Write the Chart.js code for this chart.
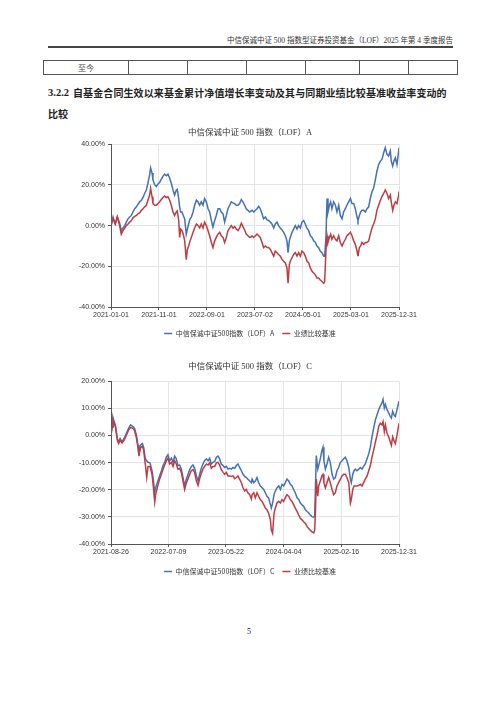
<!DOCTYPE html>
<html>
<head>
<meta charset="utf-8">
<script src="https://cdn.jsdelivr.net/npm/chart.js@4.4.1/dist/chart.umd.min.js"></script>
<style>
  body { margin: 0; background: #fff; width: 500px; height: 707px; position: relative; overflow: hidden; }
  .t { position: absolute; white-space: nowrap; color: #222; }
  .serif { font-family: 'Liberation Serif', 'Noto Sans CJK SC', serif; }
  table.row { position: absolute; left: 43px; top: 60px; width: 414px; height: 15px; border-collapse: collapse; table-layout: fixed; }
  table.row td { border: 1px solid #555; padding: 0; height: 13px; font: 8px 'Liberation Serif', 'Noto Sans CJK SC', serif; color: #444; text-align: center; }
  .box { position: absolute; left: 0; width: 500px; }
</style>
</head>
<body>
<div class="t serif" style="right:47px; top:36px; font-size:7.5px; line-height:10px; color:#333;">中信保诚中证 500 指数型证券投资基金（LOF）2025 年第 4 季度报告</div>
<div style="position:absolute; left:48px; top:46px; width:405px; height:1.5px; background:#444;"></div>

<table class="row">
  <colgroup><col style="width:85px"><col style="width:59px"><col style="width:59px"><col style="width:59px"><col style="width:54px"><col style="width:49px"><col style="width:49px"></colgroup>
  <tr><td>至今</td><td></td><td></td><td></td><td></td><td></td><td></td></tr>
</table>

<div class="t" style="left:48px; top:87px; font:bold 10.5px/12px 'Liberation Serif', serif;">3.2.2</div>
<div class="t" style="left:73px; top:87px; font:bold 10px/12px 'Noto Sans CJK SC', sans-serif; letter-spacing:0.1px;">自基金合同生效以来基金累计净值增长率变动及其与同期业绩比较基准收益率变动的</div>
<div class="t" style="left:48px; top:108px; font:bold 10px/12px 'Noto Sans CJK SC', sans-serif;">比较</div>

<div class="box" style="top:122px; height:225px;"><canvas id="chartA"></canvas></div>
<div class="box" style="top:359px; height:226px;"><canvas id="chartC"></canvas></div>

<div class="t serif" style="left:247px; top:627px; font-size:8px; line-height:10px; color:#111;">5</div>

<script>
// ---- A share class: days since 2021-01-01 ----
var daysA = [0, 13, 27, 40, 55, 65, 76, 87, 97, 108, 118, 129, 139, 150, 161, 171, 182, 192, 203, 213,
  224, 234, 245, 251, 260, 266, 277, 287, 298, 308, 319, 329, 340, 351, 361, 372, 382, 393, 403, 414,
  420, 429, 435, 441, 450, 458, 467, 477, 484, 492, 501, 509, 520, 530, 541, 551, 562, 572, 583, 593,
  604, 615, 625, 636, 646, 657, 667, 678, 689, 699, 710, 720, 731, 741, 752, 762, 773, 784, 794, 805,
  815, 826, 836, 847, 857, 868, 879, 889,
  894, 904, 915, 925, 936, 946, 957, 967, 978, 989, 999, 1010, 1020, 1031, 1041, 1052, 1062, 1073, 1084, 1094,
  1105, 1115, 1122, 1130, 1136, 1147, 1157, 1168, 1179, 1189, 1200, 1210, 1221, 1231, 1242, 1253, 1263, 1274, 1284, 1295,
  1305, 1316, 1326, 1337, 1348, 1354, 1362, 1369, 1375, 1384, 1392, 1400, 1411, 1422, 1432, 1443, 1453, 1464, 1474, 1485,
  1495, 1506, 1517, 1527, 1538, 1548, 1559, 1565, 1574, 1582, 1590, 1601, 1612, 1622, 1633, 1643, 1654, 1664, 1675, 1685,
  1696, 1707, 1717, 1728, 1738, 1749, 1759, 1770, 1776, 1785, 1793, 1802, 1812, 1823, 1825];
var fundA = [0, 3.3, 0.8, 4.5, 1.2, -2.5, -1.2, 0, 1.7, 3.3, 4.2, 5.0, 6.7, 8.3, 9.2, 10.5, 11.7, 12.5, 13.8, 15.8,
  17.5, 20.8, 25.0, 28.3, 25.8, 22.5, 20.0, 19.2, 20.5, 21.2, 22.8, 24.2, 25.3, 24.5, 25.3, 23.3, 20.8, 17.5, 15.0, 17.5,
  17.8, 13.3, 9.2, 6.7, 6.7, 5.0, 3.3, -4.2, -1.7, 0.8, 3.3, 4.2, 6.7, 10.0, 12.5, 11.7, 10.0, 11.7, 10.0, 13.3,
  11.7, 8.3, 6.7, 2.5, -0.8, 2.5, 5.0, 8.3, 8.3, 6.7, 5.8, 1.7, 5.0, 8.3, 10.0, 11.7, 11.2, 10.8, 10.0, 10.0,
  10.8, 12.8, 11.7, 10.0, 8.3, 7.5, 6.7, 7.2,
  7.5, 6.7, 7.5, 8.3, 9.5, 8.3, 5.8, 3.3, 4.2, 2.8, 2.5, 1.7, 0.8, -1.2, 0.8, 1.7, 0, -1.2, -2.2, -3.3,
  -5.0, -7.5, -13.3, -7.5, -5.8, -3.3, -1.7, 0, -1.7, 0, -1.2, 1.7, 2.5, 0.8, -1.2, -2.5, -5.0, -5.8, -7.5, -8.3,
  -10.0, -10.8, -12.5, -13.3, -15.0, -15.0, -5.8, 13.3, 6.7, 10.0, 11.7, 8.3, 11.7, 10.0, 6.7, 10.0, 5.0, 3.3, 6.7, 8.3,
  10.0, 11.7, 13.3, 10.8, 10.8, 8.3, 4.2, 2.5, 5.0, 6.7, 7.5, 7.5, 6.7, 8.3, 9.2, 13.3, 16.7, 18.3, 22.5, 26.7,
  30.0, 31.7, 32.5, 35.8, 38.3, 35.0, 34.2, 36.7, 31.7, 29.2, 31.7, 33.3, 30.0, 36.7, 38.3];
var benchA = [0, 4.2, 0.8, 4.2, 0, -4.2, -2.5, -1.2, 0, 0.8, 1.7, 2.5, 3.8, 4.5, 5.0, 5.8, 6.2, 7.5, 8.3, 9.2,
  10.0, 12.5, 15.0, 18.3, 14.2, 10.8, 10.0, 10.0, 10.8, 11.7, 12.8, 13.8, 14.5, 13.8, 14.2, 12.5, 10.0, 6.7, 5.0, 6.7,
  7.2, 2.5, -5.8, -1.7, -2.5, -4.2, -7.5, -16.7, -11.7, -10.0, -7.5, -5.8, -3.3, -1.2, 0.8, 0, -1.2, 0.8, -1.2, 1.7,
  0, -2.5, -5.0, -8.3, -10.8, -7.5, -5.8, -4.2, -3.3, -5.0, -5.8, -8.3, -5.8, -2.5, -1.2, 0, -1.2, -0.5, -1.7, -2.5,
  -1.2, 1.2, -0.5, -2.2, -4.2, -5.0, -5.8, -5.5,
  -5.0, -5.8, -5.0, -4.2, -5.0, -5.8, -8.3, -10.8, -10.0, -10.8, -10.8, -11.7, -13.3, -15.0, -12.5, -13.3, -14.2, -15.0, -16.7, -17.5,
  -18.3, -20.8, -28.3, -19.2, -17.5, -15.8, -14.2, -13.3, -15.0, -13.3, -15.0, -12.5, -13.3, -15.0, -17.5, -18.3, -20.8, -22.5, -23.3, -24.2,
  -25.8, -25.8, -26.7, -27.5, -28.3, -27.5, -12.5, -5.0, -8.3, -5.8, -4.2, -6.7, -5.0, -6.7, -7.5, -5.0, -8.3, -10.0, -8.3, -6.7,
  -5.0, -4.2, -3.3, -5.0, -7.5, -9.2, -12.5, -15.0, -10.8, -10.0, -8.3, -9.2, -8.3, -8.3, -7.5, -4.2, -1.2, 0.8, 3.3, 7.5,
  10.0, 12.5, 14.2, 15.8, 17.5, 15.8, 13.3, 15.0, 11.7, 7.5, 10.0, 11.7, 10.8, 15.0, 16.7];
var tickDaysA = [0, 304, 608, 912, 1216, 1520, 1825];
var tickLabelsA = ['2021-01-01', '2021-11-01', '2022-09-01', '2023-07-02', '2024-05-01', '2025-03-01', '2025-12-31'];

// ---- C share class: days since 2021-08-26 ----
var daysC = [0, 6, 11, 17, 24, 35, 42, 50, 61, 72, 85, 97, 108, 121, 130, 140, 149, 154, 162, 173,
  180, 189, 197, 204, 215, 226, 233, 241, 246, 255, 268, 278, 287, 296, 305, 314, 323, 333, 342, 351,
  360, 369, 379, 388, 397, 406, 415, 425, 434, 443, 452, 461, 471, 480, 489, 498, 507, 516, 526, 535,
  544, 553, 562, 572, 581, 590, 599, 608, 618, 627, 636, 645, 654, 664, 673, 682, 691, 700, 709, 719,
  728, 737, 746, 755, 765, 774,
  778, 787, 796, 805, 814, 823, 833, 842, 851, 860, 869, 879, 884, 891, 899, 906, 915, 925, 934, 943,
  952, 961, 970, 980, 989, 998, 1007, 1016, 1026, 1035, 1044, 1053, 1062, 1072, 1081, 1090, 1099, 1108, 1118, 1123,
  1127, 1132, 1140, 1145, 1154, 1163, 1169, 1174, 1182, 1191, 1200, 1209, 1219, 1228, 1237, 1246, 1255, 1265, 1274, 1283,
  1292, 1301, 1311, 1320, 1325, 1333, 1340, 1347, 1356, 1366, 1375, 1384, 1393, 1402, 1412, 1421, 1430, 1439, 1448, 1458,
  1467, 1476, 1485, 1494, 1500, 1507, 1513, 1522, 1531, 1540, 1546, 1553, 1560, 1568, 1577, 1588];
var fundC = [0, 3.3, 6.6, 5.1, 3.9, -1.1, -2.4, -1.1, -2.4, -1.1, 0.8, 2.6, 3.9, 3.3, 2.6, 0.1, -3.6, -6.8, -3.6, -3.0,
  -4.3, -8.6, -9.3, -9.9, -10.1, -13.0, -16.1, -21.0, -19.3, -17.4, -14.9, -13.0, -11.1, -9.9, -8.0, -7.1, -9.3, -8.4, -9.9, -7.6,
  -8.6, -11.1, -10.9, -12.4, -15.5, -18.6, -16.1, -14.3, -12.6, -11.4, -10.9, -12.1, -14.9, -16.8, -14.3, -12.1, -10.5, -9.3, -8.6, -9.3,
  -8.4, -10.5, -9.9, -9.6, -8.0, -7.6, -8.6, -10.5, -11.1, -11.8, -11.4, -12.4, -12.1, -12.4, -11.8, -12.1, -11.1, -10.5, -11.8, -13.0,
  -14.3, -15.1, -15.5, -16.1, -16.8, -17.4,
  -16.1, -17.4, -16.8, -15.5, -17.4, -18.6, -19.3, -19.9, -21.1, -22.4, -23.0, -25.5, -26.8, -24.9, -21.8, -20.5, -19.3, -18.6, -19.9, -18.0,
  -18.6, -17.4, -16.1, -16.8, -18.0, -18.6, -19.9, -21.1, -23.0, -23.6, -24.9, -25.5, -26.1, -27.4, -28.0, -28.6, -29.3, -29.9, -30.1, -29.9,
  -19.9, -7.4, -12.4, -11.1, -8.6, -5.5, -4.3, -9.3, -12.4, -10.5, -8.0, -9.9, -14.3, -16.1, -15.5, -13.0, -11.8, -9.9, -9.3, -8.6,
  -8.0, -9.3, -11.8, -16.1, -17.4, -14.3, -13.0, -12.4, -13.0, -12.4, -11.8, -12.4, -11.4, -10.5, -8.6, -6.8, -4.3, -0.5, 2.6, 5.8,
  7.6, 9.5, 10.8, 12.0, 13.3, 10.1, 11.4, 9.5, 8.3, 7.0, 6.4, 8.9, 7.6, 7.0, 9.5, 12.6];
var benchC = [0, 3.0, 5.8, 4.5, 3.3, -1.8, -3.0, -1.8, -2.8, -1.8, 0.1, 2.0, 2.9, 2.6, 1.8, -0.9, -4.6, -7.6, -4.6, -4.0,
  -5.3, -10.5, -15.5, -11.4, -11.4, -14.3, -18.6, -24.5, -21.8, -19.3, -16.1, -14.3, -12.4, -10.9, -9.3, -8.4, -10.5, -9.9, -11.4, -9.3,
  -10.5, -12.4, -12.1, -13.6, -16.8, -19.9, -17.6, -15.9, -14.3, -13.0, -12.6, -13.6, -16.8, -18.4, -15.9, -13.9, -12.4, -11.4, -10.5, -10.9,
  -10.1, -12.1, -11.4, -11.4, -10.1, -9.9, -10.9, -12.6, -13.6, -14.3, -13.6, -14.9, -14.9, -15.1, -14.9, -15.9, -15.5, -14.9, -16.1, -17.4,
  -19.3, -20.5, -19.9, -21.1, -21.8, -23.4,
  -21.8, -21.1, -23.0, -21.1, -22.4, -23.6, -24.3, -25.5, -26.8, -27.4, -28.6, -31.1, -34.9, -36.1, -28.6, -26.8, -24.9, -24.3, -24.9, -23.6,
  -24.3, -23.0, -21.8, -22.4, -23.6, -24.3, -25.5, -26.8, -28.0, -29.3, -30.5, -31.1, -31.8, -32.4, -33.6, -34.3, -34.9, -35.5, -35.9, -34.9,
  -28.6, -16.1, -22.4, -18.6, -16.8, -14.9, -14.3, -17.4, -19.3, -17.4, -15.5, -17.4, -19.9, -21.8, -21.1, -18.6, -17.4, -16.1, -14.9, -14.3,
  -14.3, -15.5, -17.4, -24.9, -23.6, -19.9, -18.6, -18.6, -18.6, -18.4, -18.0, -18.6, -17.4, -16.1, -14.9, -13.0, -11.1, -8.0, -5.5, -2.4,
  0.1, 3.3, 4.5, 3.9, 5.1, 1.4, 3.9, 0.8, -0.5, -2.4, -3.6, -0.5, -1.8, -3.0, 0.1, 4.5];
var tickDaysC = [0, 317, 634, 952, 1270, 1588];
var tickLabelsC = ['2021-08-26', '2022-07-09', '2023-05-22', '2024-04-04', '2025-02-16', '2025-12-31'];

var blue = '#4472B4';
var red = '#BE3C43';
var tickFont = { family: "'Liberation Sans', Arial, sans-serif", size: 7 };

function makeChart(id, title, titlePad, fundLabel, days, fund, bench, tickDays, tickLabels, yMin, yMax, yStep, xHeight) {
    var ctx = document.getElementById(id).getContext('2d');
    return new Chart(ctx, {
        type: 'line',
        data: {
            datasets: [{
                label: fundLabel,
                data: days.map(function (d, i) { return { x: d, y: fund[i] }; }),
                borderColor: blue,
                backgroundColor: blue,
                borderWidth: 1.5,
                pointRadius: 0,
                tension: 0,
                order: 1
            }, {
                label: '业绩比较基准',
                data: days.map(function (d, i) { return { x: d, y: bench[i] }; }),
                borderColor: red,
                backgroundColor: red,
                borderWidth: 1.5,
                pointRadius: 0,
                tension: 0,
                order: 0
            }]
        },
        options: {
            responsive: true,
            maintainAspectRatio: false,
            animation: false,
            layout: { padding: 0 },
            plugins: {
                title: {
                    display: true,
                    text: title,
                    color: '#333',
                    font: { family: "'Liberation Serif', 'Noto Sans CJK SC', serif", size: 8.5, weight: 'normal' },
                    padding: titlePad
                },
                legend: {
                    position: 'bottom',
                    labels: {
                        usePointStyle: true,
                        pointStyle: 'line',
                        pointStyleWidth: 8,
                        padding: 8,
                        color: '#333',
                        font: { family: "'Noto Sans CJK SC', sans-serif", size: 7 },
                        sort: function (a, b) { return a.datasetIndex - b.datasetIndex; }
                    }
                },
                tooltip: { enabled: false }
            },
            scales: {
                x: {
                    type: 'linear',
                    min: tickDays[0],
                    max: tickDays[tickDays.length - 1],
                    afterBuildTicks: function (s) { s.ticks = tickDays.map(function (v) { return { value: v }; }); },
                    afterFit: function (s) { s.height = xHeight; },
                    ticks: {
                        autoSkip: false, maxRotation: 0, padding: 1, color: '#333', font: tickFont,
                        callback: function (v, i) { return tickLabels[i]; }
                    },
                    grid: { color: '#e4e4e4', tickColor: '#555', tickLength: 3 },
                    border: { color: '#555' }
                },
                y: {
                    min: yMin,
                    max: yMax,
                    afterFit: function (s) { s.width = 111; },
                    ticks: {
                        stepSize: yStep, padding: 3, color: '#333', font: tickFont,
                        callback: function (v) { return v.toFixed(2) + '%'; }
                    },
                    grid: { color: '#e4e4e4', tickColor: '#555', tickLength: 3 },
                    border: { color: '#555' }
                },
                // empty right-hand axis: only reserves the page margin so title and legend stay centred
                yR: {
                    position: 'right',
                    min: yMin,
                    max: yMax,
                    afterFit: function (s) { s.width = 101; },
                    ticks: { display: false },
                    grid: { display: false, drawTicks: false },
                    border: { display: false }
                }
            }
        }
    });
}

window.onload = function () {
    makeChart('chartA', '中信保诚中证 500 指数（LOF）A', { top: 6, bottom: 6 }, '中信保诚中证500指数（LOF）A',
        daysA, fundA, benchA, tickDaysA, tickLabelsA, -40, 40, 20, 15);
    makeChart('chartC', '中信保诚中证 500 指数（LOF）C', { top: 3, bottom: 9 }, '中信保诚中证500指数（LOF）C',
        daysC, fundC, benchC, tickDaysC, tickLabelsC, -40, 20, 10, 16);
};
</script>
</body>
</html>
